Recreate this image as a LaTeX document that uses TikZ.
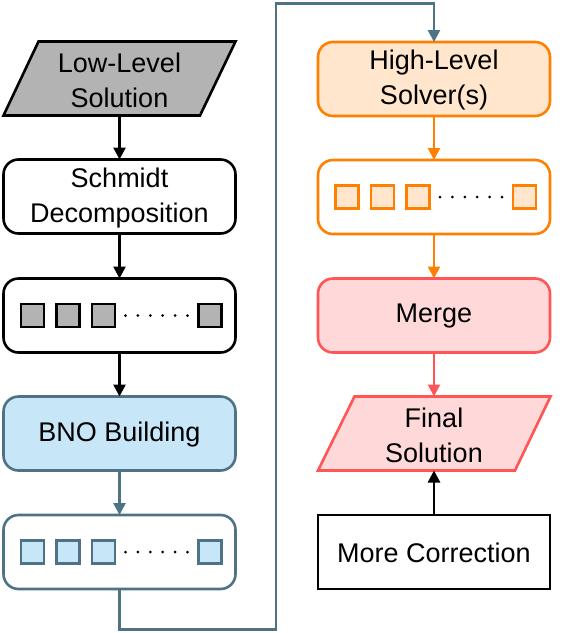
\documentclass[tikz,border=0pt]{standalone}
\usepackage{fontspec}
\setmainfont{Liberation Sans}
\usetikzlibrary{arrows.meta}
\definecolor{bstroke}{HTML}{4D7385}
\definecolor{bfill}{HTML}{C7E7F8}
\definecolor{ostroke}{HTML}{FF8000}
\definecolor{ofill}{HTML}{FFE6CC}
\definecolor{rstroke}{HTML}{FF5555}
\definecolor{rfill}{HTML}{FFD9D9}
\definecolor{gfill}{HTML}{B3B3B3}
\tikzset{
  lbl/.style={font=\fontsize{27}{35}\selectfont, align=center, inner sep=0pt, outer sep=0pt},
  rbox/.style={draw, line width=2.6pt, rounded corners=15pt, minimum width=232pt, minimum height=74pt, inner sep=0pt, outer sep=0pt},
  pbox/.style={minimum width=200pt, minimum height=74pt, inner sep=0pt, outer sep=0pt},
  sq/.style={draw, line width=2.4pt, minimum size=23pt, inner sep=0pt},
  arr/.style={line width=2.6pt, -{Triangle[length=12pt,width=12pt]}},
  dotrow/.style={fill=black, circle, inner sep=0pt, minimum size=3pt}
}
\newcommand{\squarerow}[4]{% box node, fill, stroke, prefix
  \foreach \dx/\nm in {29/a,64.5/b,100/c,206.5/d}{
    \node[sq, fill=#2, draw=#3] (#4\nm) at ([xshift=\dx pt]#1.west) {};
  }
  \foreach \k in {0,...,5}{
    \node[dotrow] (#4dot\k) at ([xshift={122+12.4*\k}]#1.west) {};
  }
}
\begin{document}
\begin{tikzpicture}[x=1pt,y=-1pt]
\useasboundingbox (0,0) rectangle (588,633);
% ---- left column
\draw[line width=2.6pt, fill=gfill, line join=miter] (38.5,41.5) -- (235.5,41.5) -- (200,115.5) -- (3.5,115.5) -- cycle;
\node[pbox] (low) at (119.5,78.5) {};
\node[lbl] (lowt) at ([yshift=-1.5pt]low.center) {Low-Level\\Solution};
\node[rbox] (sd) at (119.5,196.5) {};
\node[lbl] (sdt) at ([yshift=-1.5pt]sd.center) {Schmidt\\Decomposition};
\node[rbox] (gl) at (119.5,315.5) {};
\node[rbox, draw=bstroke, fill=bfill] (bno) at (119.5,433.5) {};
\node[lbl] (bnot) at ([yshift=-1pt]bno.center) {BNO Building};
\node[rbox, draw=bstroke] (bl) at (119.5,552) {};
\squarerow{gl}{gfill}{black}{g}
\squarerow{bl}{bfill}{bstroke}{b}
% ---- right column
\node[rbox, draw=ostroke, fill=ofill] (hl) at (434,79) {};
\node[lbl] (hlt) at ([yshift=-1.5pt]hl.center) {High-Level\\Solver(s)};
\node[rbox, draw=ostroke] (ol) at (434,197) {};
\squarerow{ol}{ofill}{ostroke}{o}
\node[rbox, draw=rstroke, fill=rfill] (mg) at (434,315.5) {};
\node[lbl] (mgt) at ([yshift=-1pt]mg.center) {Merge};
\draw[line width=2.6pt, draw=rstroke, fill=rfill, line join=miter] (354.5,396.5) -- (550.5,396.5) -- (515,470.5) -- (318,470.5) -- cycle;
\node[pbox] (fs) at (434,433.5) {};
\node[lbl] (fst) at ([yshift=-1.5pt]fs.center) {Final\\Solution};
\node[rbox, rounded corners=0pt] (mc) at (434,552) {};
\node[lbl] (mct) at ([yshift=-1pt]mc.center) {More Correction};
% ---- connectors
\draw[arr] (low) -- (sd);
\draw[arr] (sd) -- (gl);
\draw[arr] (gl) -- (bno);
\draw[arr, bstroke] (bno) -- (bl);
\coordinate (c1) at (119.5,629.5);
\coordinate (c2) at (276,629.5);
\coordinate (c3) at (276,3.5);
\coordinate (c4) at (434,3.5);
\draw[arr, bstroke] (bl.south) -- (c1) -- (c2) -- (c3) -- (c4) -- (hl.north);
\draw[arr, ostroke] (hl) -- (ol);
\draw[arr, ostroke] (ol) -- (mg);
\draw[arr, rstroke] (mg) -- (fs);
\draw[arr] (mc) -- (fs);
\end{tikzpicture}
\end{document}
